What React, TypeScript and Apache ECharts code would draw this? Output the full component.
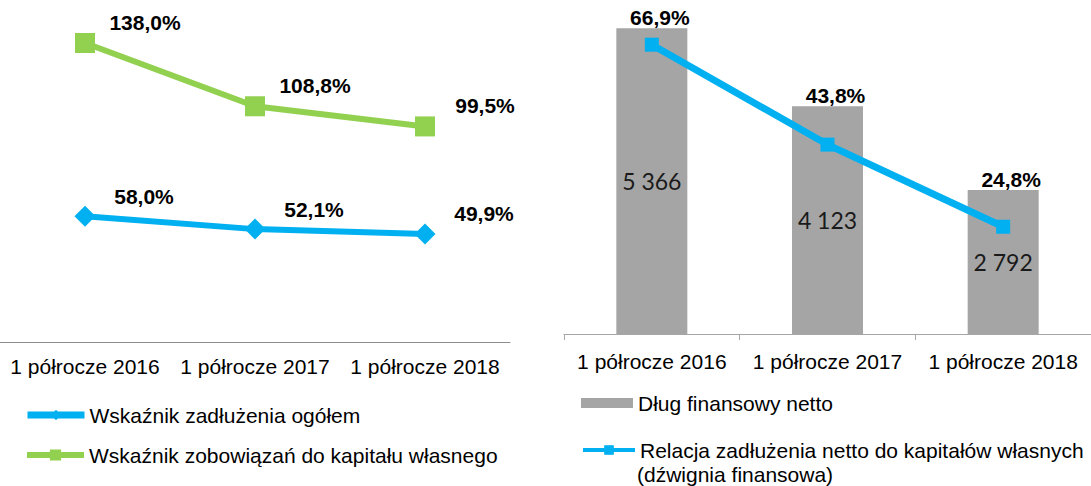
import React, { useEffect, useRef } from 'react';
import * as echarts from 'echarts';

const categories = ['1 półrocze 2016', '1 półrocze 2017', '1 półrocze 2018'];
const debtRatio = [58.0, 52.1, 49.9];
const liabilitiesToEquity = [138.0, 108.8, 99.5];
const netDebt = [5366, 4123, 2792];
const leverage = [66.9, 43.8, 24.8];

const NAME_DEBT = 'Wskaźnik zadłużenia ogółem';
const NAME_LIAB = 'Wskaźnik zobowiązań do kapitału własnego';
const NAME_NET = 'Dług finansowy netto';
const NAME_LEV = 'Relacja zadłużenia netto do kapitałów własnych';
const LEV_SUFFIX = '(dźwignia finansowa)';

const fmtPct = (v: number) => v.toFixed(1).replace('.', ',') + '%';
const fmtThousands = (v: number) => String(v).replace(/\B(?=(\d{3})+(?!\d))/g, ' ');

const FONT = '"Liberation Sans", Arial, sans-serif';
const BLUE = '#00b0f0';
const GREEN = '#92d050';
const GRAY = '#a5a5a5';

export default function App() {
  const ref = useRef<HTMLDivElement>(null);
  useEffect(() => {
    document.body.style.margin = '0';
    const chart = echarts.init(ref.current!, undefined, { renderer: 'svg' });
    const pctLabel = {
      show: true,
      fontFamily: FONT,
      fontSize: 21,
      fontWeight: 'bold' as const,
      color: '#000',
    };
    const legendText = { fontFamily: FONT, fontSize: 21, color: '#000', lineHeight: 24 };
    chart.setOption({
      animation: false,
      textStyle: { fontFamily: FONT },
      grid: [
        { left: 0, top: 17, width: 510, height: 325 },
        { left: 564, top: 1, width: 537, height: 333 },
      ],
      xAxis: [
        {
          type: 'category', gridIndex: 0, data: categories,
          axisLine: { lineStyle: { color: '#8c8c8c', width: 1 } },
          axisTick: { show: false },
          axisLabel: { interval: 0, color: '#000', fontFamily: FONT, fontSize: 21, margin: 14 },
        },
        {
          type: 'category', gridIndex: 1, data: categories,
          axisLine: { lineStyle: { color: '#a6a6a6', width: 1 } },
          axisTick: { show: true, length: 6, lineStyle: { color: '#a6a6a6' } },
          axisLabel: { interval: 0, color: '#000', fontFamily: FONT, fontSize: 21, margin: 17 },
        },
      ],
      yAxis: [
        { type: 'value', gridIndex: 0, min: 0, max: 150, show: false },
        { type: 'value', gridIndex: 1, min: 500, max: 5800, show: false },
        { type: 'value', gridIndex: 1, min: 0, max: 77, show: false },
      ],
      legend: [
        {
          data: [NAME_DEBT], left: 24, top: 403, padding: 0, itemWidth: 57, itemHeight: 13,
          lineStyle: { width: 7 }, textStyle: legendText,
        },
        {
          data: [NAME_LIAB], left: 24, top: 443, padding: 0, itemWidth: 57, itemHeight: 14,
          lineStyle: { width: 6 }, textStyle: legendText,
        },
        {
          data: [{ name: NAME_NET, icon: 'rect' }], left: 581, top: 391, padding: 0,
          itemWidth: 52, itemHeight: 10, textStyle: legendText,
        },
        {
          data: [NAME_LEV], left: 581, top: 438, padding: 0, itemWidth: 52, itemHeight: 12,
          lineStyle: { width: 4 }, textStyle: legendText,
        },
      ],
      graphic: [
        {
          type: 'text', left: 637, top: 464,
          style: { text: LEV_SUFFIX, font: `21px ${FONT}`, fill: '#000' },
        },
      ],
      series: [
        {
          name: NAME_DEBT, type: 'line', xAxisIndex: 0, yAxisIndex: 0, data: debtRatio,
          symbol: 'diamond', symbolSize: 21,
          lineStyle: { color: BLUE, width: 6 }, itemStyle: { color: BLUE },
          label: { ...pctLabel, position: 'inside', offset: [59, -20], formatter: (p: any) => fmtPct(p.value) },
        },
        {
          name: NAME_LIAB, type: 'line', xAxisIndex: 0, yAxisIndex: 0, data: liabilitiesToEquity,
          symbol: 'rect', symbolSize: 20,
          lineStyle: { color: GREEN, width: 6 }, itemStyle: { color: GREEN },
          label: { ...pctLabel, position: 'inside', offset: [60, -21], formatter: (p: any) => fmtPct(p.value) },
        },
        {
          name: NAME_NET, type: 'bar', xAxisIndex: 1, yAxisIndex: 1, data: netDebt,
          barWidth: 71, barGap: '-100%',
          itemStyle: { color: GRAY },
          label: {
            show: true, position: 'inside', fontFamily: 'Lato, "Open Sans", sans-serif', fontSize: 23,
            color: '#1a1a1a', formatter: (p: any) => fmtThousands(p.value),
          },
        },
        {
          name: 'overlay', type: 'bar', xAxisIndex: 1, yAxisIndex: 1, data: netDebt,
          barWidth: 71, barGap: '-100%', silent: true,
          itemStyle: { color: 'rgba(0,0,0,0)' },
          label: {
            ...pctLabel, position: 'top', distance: 0, offset: [8, 0],
            formatter: (p: any) => fmtPct(leverage[p.dataIndex]),
          },
        },
        {
          name: NAME_LEV, type: 'line', xAxisIndex: 1, yAxisIndex: 2, data: leverage,
          symbol: 'rect', symbolSize: 14,
          lineStyle: { color: BLUE, width: 7 }, itemStyle: { color: BLUE },
          z: 5,
        },
      ],
    });
    return () => chart.dispose();
  }, []);
  return <div ref={ref} style={{ position: 'absolute', left: 0, top: 0, width: 1091, height: 486 }} />;
}
